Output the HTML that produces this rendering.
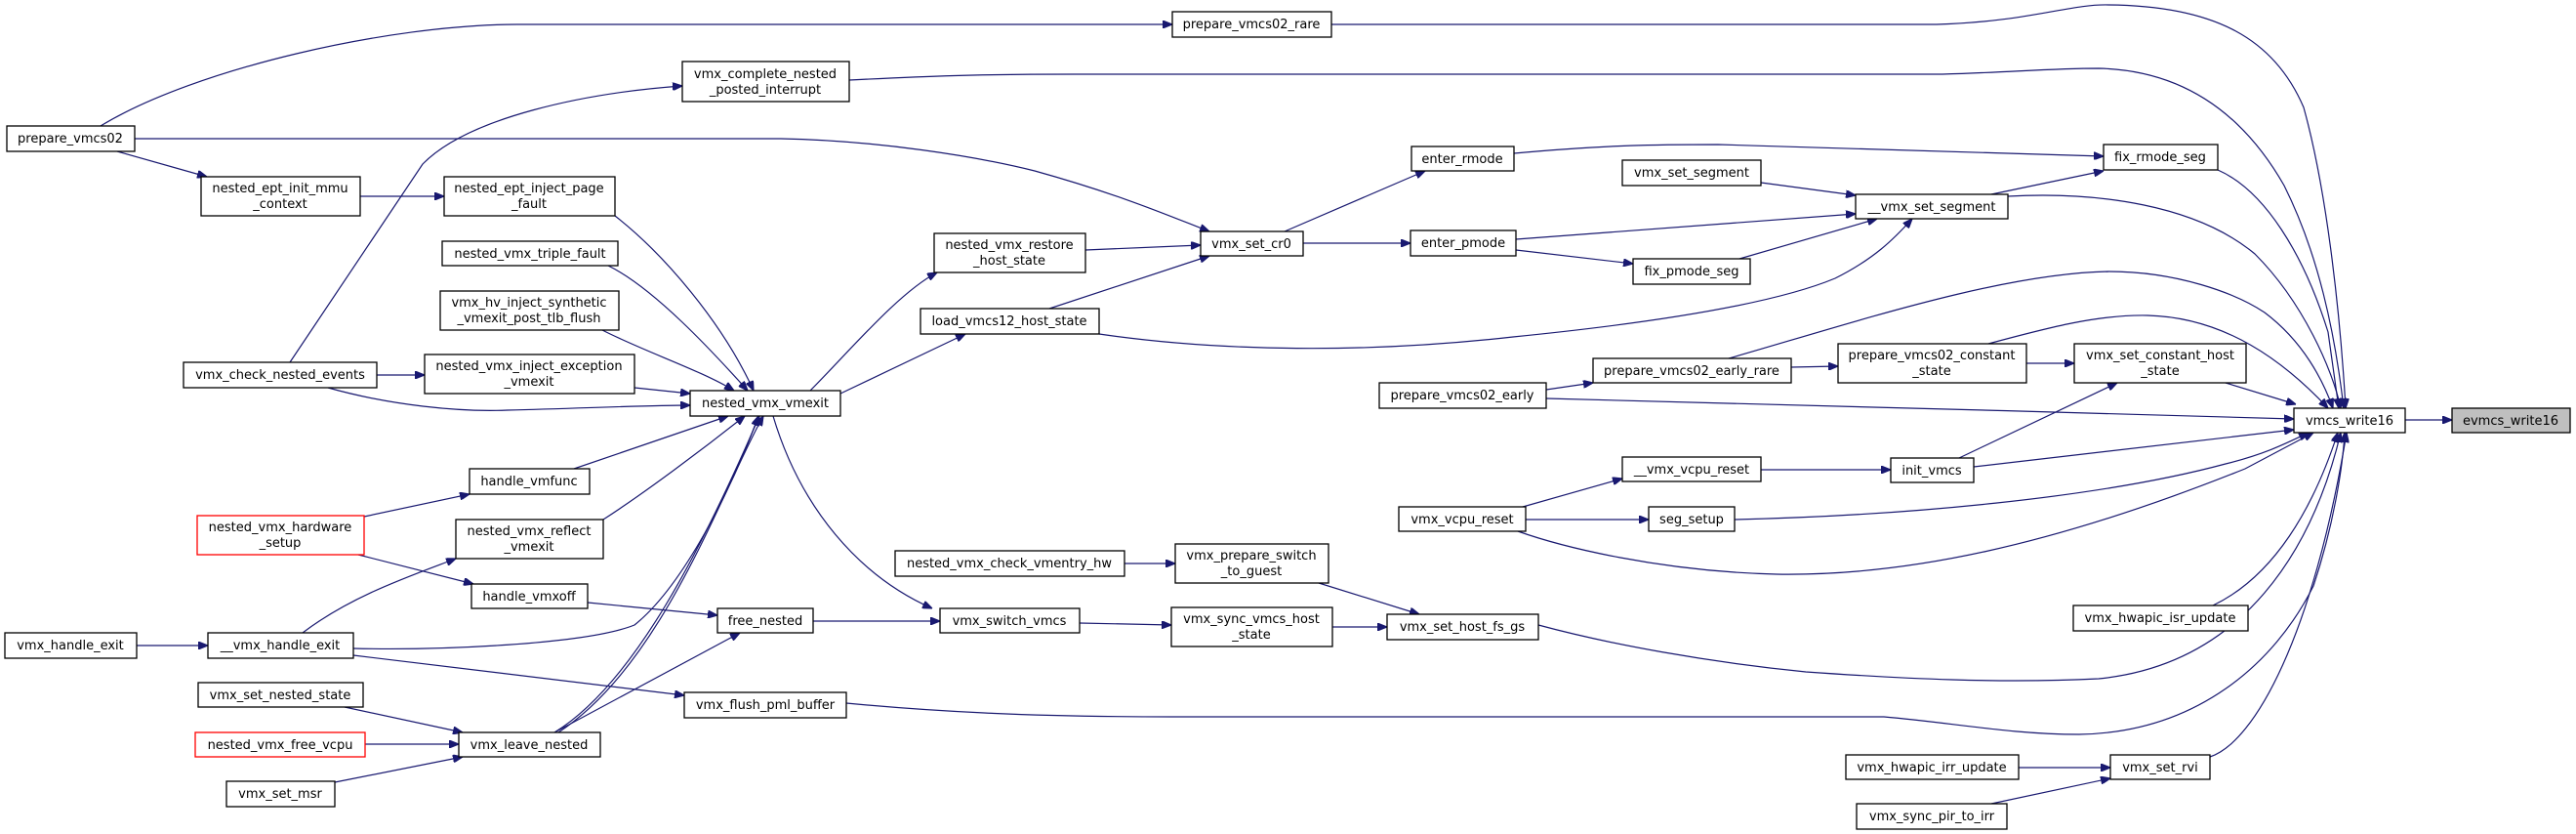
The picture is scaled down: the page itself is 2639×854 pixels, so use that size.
<!DOCTYPE html>
<html><head><meta charset="utf-8"><style>
html,body{margin:0;padding:0;background:#fff;}
svg{display:block;}
text{font-family:"DejaVu Sans","Liberation Sans",sans-serif;font-size:13px;fill:#000;text-anchor:middle;}
rect{fill:#fff;stroke:#000;stroke-width:1.3;}
path{fill:none;stroke:#191970;stroke-width:1.2;marker-end:url(#a);}
</style></head><body>
<svg width="2639" height="854" viewBox="0 0 2639 854" xmlns="http://www.w3.org/2000/svg">
<defs><marker id="a" viewBox="0 0 10 8" refX="10" refY="4" markerWidth="10" markerHeight="8" markerUnits="userSpaceOnUse" orient="auto"><path d="M0,0 L10,4 L0,8 z" style="fill:#191970;stroke:#191970;marker-end:none"/></marker></defs>

<!-- edges -->
<path d="M103,129 C200,70 400,25 530,25 L1201,25"/>
<path d="M120,155 L212,181"/>
<path d="M138,142 L800,142 C900,144 1000,160 1060,175 C1150,200 1200,222 1239,237"/>
<path d="M369,201 L455,201"/>
<path d="M630,221 C680,260 740,330 772,400"/>
<path d="M623,272 C670,295 730,360 766,400"/>
<path d="M617,338 C660,360 720,380 752,400"/>
<path d="M386,384 L435,384"/>
<path d="M336,397 C400,415 470,422 520,420 C600,418 660,415 707,415"/>
<path d="M297,371 L433,168 C480,120 600,95 699,88"/>
<path d="M650,397 L707,403"/>
<path d="M588,480 L746,426"/>
<path d="M373,529 L481,506"/>
<path d="M367,568 L485,598"/>
<path d="M618,532 C660,505 720,460 763,426"/>
<path d="M310,648 C360,610 420,590 467,572"/>
<path d="M362,664 C450,666 600,660 650,640 C700,600 750,500 777,426"/>
<path d="M362,671 L701,712"/>
<path d="M140,661 L213,661"/>
<path d="M602,617 L735,630"/>
<path d="M568,750 L758,648"/>
<path d="M568,750 C650,700 720,560 778,426"/>
<path d="M572,750 C680,680 740,500 782,426"/>
<path d="M353,724 L474,750"/>
<path d="M374,762 L470,762"/>
<path d="M343,801 L474,775"/>
<path d="M833,636 L963,636"/>
<path d="M792,426 C820,520 880,590 955,623"/>
<path d="M830,400 C870,360 920,300 960,279"/>
<path d="M861,403 L989,342"/>
<path d="M1112,256 L1230,251"/>
<path d="M1075,316 L1239,262"/>
<path d="M1126,342 C1250,360 1400,362 1550,345 C1700,330 1820,310 1880,285 C1920,265 1940,245 1959,224"/>
<path d="M1316,237 L1460,175"/>
<path d="M1335,249 L1445,249"/>
<path d="M1551,157 C1650,148 1700,148 1760,148 L2155,160"/>
<path d="M1553,245 L1901,219"/>
<path d="M1553,256 L1673,270"/>
<path d="M1782,265 L1923,224"/>
<path d="M1804,187 L1901,200"/>
<path d="M2040,199 L2155,175"/>
<path d="M2057,201 C2150,196 2250,210 2310,260 C2360,310 2390,380 2398,418"/>
<path d="M2272,174 C2320,195 2360,260 2385,340 L2396,418"/>
<path d="M1364,25 L1984,25 C2080,22 2120,4 2160,5 C2270,6 2330,40 2360,110 C2385,200 2398,330 2403,418"/>
<path d="M870,82 C950,78 1000,76 1100,76 L1990,76 C2060,74 2100,70 2150,70 C2240,72 2300,120 2340,190 C2375,260 2392,340 2401,418"/>
<path d="M1584,399 L1632,392"/>
<path d="M1584,408 C1800,413 2100,422 2350,429"/>
<path d="M1835,376 L1883,375"/>
<path d="M1771,367 C1900,330 2050,280 2160,278 C2230,278 2290,300 2320,320 C2360,350 2380,390 2390,418"/>
<path d="M2076,372 L2125,372"/>
<path d="M2037,352 C2100,335 2150,322 2200,323 C2280,325 2340,370 2385,418"/>
<path d="M2280,392 L2352,414"/>
<path d="M2007,469 L2169,392"/>
<path d="M2022,478 L2350,440"/>
<path d="M1804,481 L1937,481"/>
<path d="M1560,519 L1662,490"/>
<path d="M1563,532 L1689,532"/>
<path d="M1555,544 C1600,560 1700,585 1820,588 C1950,590 2100,560 2300,480 L2370,443"/>
<path d="M1777,532 C1950,528 2150,510 2280,475 C2320,465 2340,455 2365,443"/>
<path d="M2267,620 C2330,590 2370,520 2395,443"/>
<path d="M1576,640 C1650,660 1750,678 1850,688 C1950,695 2050,700 2150,695 C2300,680 2370,560 2398,443"/>
<path d="M867,720 C950,728 1050,734 1200,734 L1930,734 C2000,740 2060,752 2130,752 C2250,750 2330,680 2370,600 C2390,540 2400,480 2402,443"/>
<path d="M2264,775 C2310,760 2370,650 2404,443"/>
<path d="M2068,786 L2162,786"/>
<path d="M2040,823 L2162,797"/>
<path d="M1152,577 L1204,577"/>
<path d="M1351,597 L1454,629"/>
<path d="M1106,638 L1200,640"/>
<path d="M1365,642 L1421,642"/>
<path d="M2464,430 L2512,430"/>

<!-- nodes -->
<rect x="7" y="129" width="131" height="26"/><text x="72" y="146">prepare_vmcs02</text>
<rect x="699" y="63" width="171" height="41"/><text x="784" y="80">vmx_complete_nested</text><text x="784" y="96">_posted_interrupt</text>
<rect x="206" y="181" width="163" height="40"/><text x="287" y="197">nested_ept_init_mmu</text><text x="287" y="213">_context</text>
<rect x="455" y="181" width="175" height="40"/><text x="542" y="197">nested_ept_inject_page</text><text x="542" y="213">_fault</text>
<rect x="453" y="247" width="180" height="25"/><text x="543" y="264">nested_vmx_triple_fault</text>
<rect x="451" y="298" width="183" height="40"/><text x="542" y="314">vmx_hv_inject_synthetic</text><text x="542" y="330">_vmexit_post_tlb_flush</text>
<rect x="188" y="371" width="198" height="26"/><text x="287" y="388">vmx_check_nested_events</text>
<rect x="435" y="363" width="215" height="40"/><text x="542" y="379">nested_vmx_inject_exception</text><text x="542" y="395">_vmexit</text>
<rect x="707" y="400" width="154" height="26"/><text x="784" y="417">nested_vmx_vmexit</text>
<rect x="481" y="480" width="123" height="26"/><text x="542" y="497">handle_vmfunc</text>
<rect x="202" y="528" width="171" height="40" style="stroke:#f00"/><text x="287" y="544">nested_vmx_hardware</text><text x="287" y="560">_setup</text>
<rect x="467" y="532" width="151" height="40"/><text x="542" y="548">nested_vmx_reflect</text><text x="542" y="564">_vmexit</text>
<rect x="483" y="598" width="119" height="25"/><text x="542" y="615">handle_vmxoff</text>
<rect x="735" y="623" width="98" height="25"/><text x="784" y="640">free_nested</text>
<rect x="5" y="648" width="135" height="26"/><text x="72" y="665">vmx_handle_exit</text>
<rect x="213" y="648" width="149" height="26"/><text x="287" y="665">__vmx_handle_exit</text>
<rect x="203" y="699" width="169" height="25"/><text x="287" y="716">vmx_set_nested_state</text>
<rect x="701" y="709" width="166" height="26"/><text x="784" y="726">vmx_flush_pml_buffer</text>
<rect x="200" y="750" width="174" height="25" style="stroke:#f00"/><text x="287" y="767">nested_vmx_free_vcpu</text>
<rect x="470" y="750" width="145" height="25"/><text x="542" y="767">vmx_leave_nested</text>
<rect x="232" y="800" width="111" height="26"/><text x="287" y="817">vmx_set_msr</text>
<rect x="1201" y="12" width="163" height="26"/><text x="1282" y="29">prepare_vmcs02_rare</text>
<rect x="1446" y="150" width="105" height="25"/><text x="1498" y="167">enter_rmode</text>
<rect x="1662" y="164" width="142" height="26"/><text x="1733" y="181">vmx_set_segment</text>
<rect x="957" y="239" width="155" height="40"/><text x="1034" y="255">nested_vmx_restore</text><text x="1034" y="271">_host_state</text>
<rect x="1230" y="237" width="105" height="25"/><text x="1282" y="254">vmx_set_cr0</text>
<rect x="1445" y="236" width="108" height="26"/><text x="1499" y="253">enter_pmode</text>
<rect x="1673" y="265" width="120" height="26"/><text x="1733" y="282">fix_pmode_seg</text>
<rect x="943" y="316" width="183" height="26"/><text x="1034" y="333">load_vmcs12_host_state</text>
<rect x="1632" y="367" width="203" height="25"/><text x="1733" y="384">prepare_vmcs02_early_rare</text>
<rect x="1413" y="392" width="171" height="26"/><text x="1498" y="409">prepare_vmcs02_early</text>
<rect x="1662" y="468" width="142" height="25"/><text x="1733" y="485">__vmx_vcpu_reset</text>
<rect x="1433" y="519" width="130" height="25"/><text x="1498" y="536">vmx_vcpu_reset</text>
<rect x="1689" y="519" width="88" height="25"/><text x="1733" y="536">seg_setup</text>
<rect x="917" y="564" width="235" height="26"/><text x="1034" y="581">nested_vmx_check_vmentry_hw</text>
<rect x="1204" y="557" width="157" height="40"/><text x="1282" y="573">vmx_prepare_switch</text><text x="1282" y="589">_to_guest</text>
<rect x="963" y="623" width="143" height="25"/><text x="1034" y="640">vmx_switch_vmcs</text>
<rect x="1200" y="622" width="165" height="40"/><text x="1282" y="638">vmx_sync_vmcs_host</text><text x="1282" y="654">_state</text>
<rect x="1421" y="629" width="155" height="26"/><text x="1498" y="646">vmx_set_host_fs_gs</text>
<rect x="2155" y="148" width="117" height="26"/><text x="2213" y="165">fix_rmode_seg</text>
<rect x="1901" y="199" width="156" height="25"/><text x="1979" y="216">__vmx_set_segment</text>
<rect x="1883" y="352" width="193" height="40"/><text x="1979" y="368">prepare_vmcs02_constant</text><text x="1979" y="384">_state</text>
<rect x="2125" y="352" width="176" height="40"/><text x="2213" y="368">vmx_set_constant_host</text><text x="2213" y="384">_state</text>
<rect x="2350" y="418" width="114" height="25"/><text x="2407" y="435">vmcs_write16</text>
<rect x="2512" y="418" width="121" height="25" style="fill:#bfbfbf"/><text x="2572" y="435">evmcs_write16</text>
<rect x="1937" y="469" width="85" height="25"/><text x="1979" y="486">init_vmcs</text>
<rect x="2124" y="620" width="179" height="26"/><text x="2213" y="637">vmx_hwapic_isr_update</text>
<rect x="1891" y="773" width="177" height="25"/><text x="1979" y="790">vmx_hwapic_irr_update</text>
<rect x="2162" y="773" width="102" height="25"/><text x="2213" y="790">vmx_set_rvi</text>
<rect x="1902" y="823" width="154" height="26"/><text x="1979" y="840">vmx_sync_pir_to_irr</text>
</svg>
</body></html>
